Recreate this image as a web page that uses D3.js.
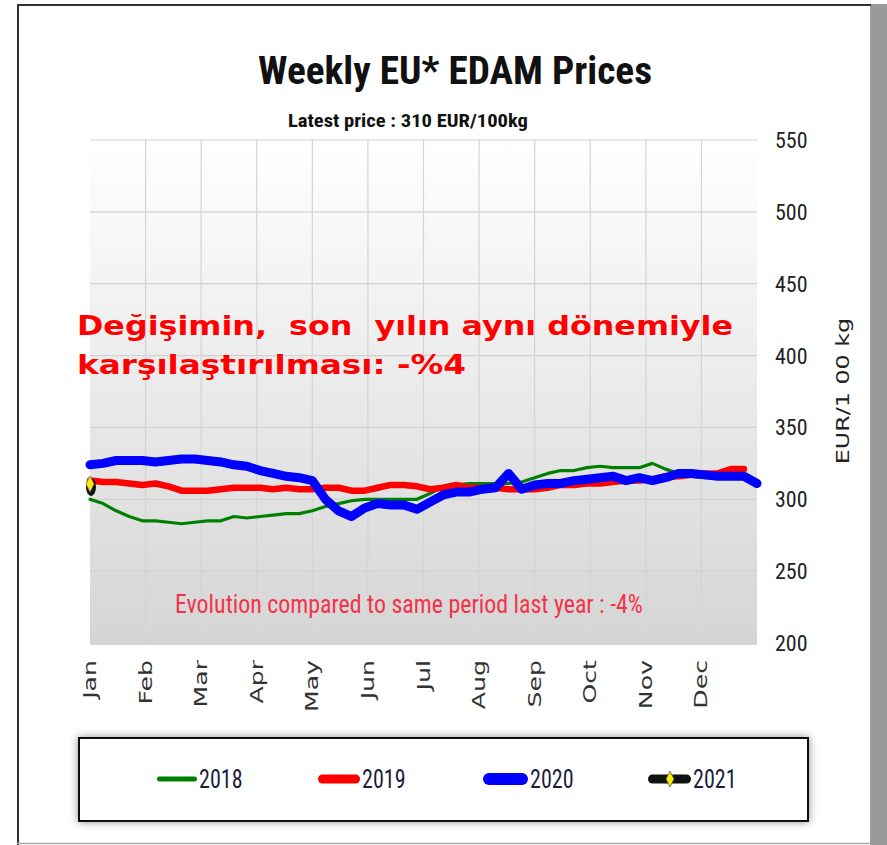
<!DOCTYPE html>
<html>
<head>
<meta charset="utf-8">
<script src="https://cdn.jsdelivr.net/npm/d3@7/dist/d3.min.js"></script>
<style>
  html, body { margin: 0; padding: 0; background: #fff; }
  svg { display: block; }
</style>
</head>
<body>
<svg id="chart" width="887" height="845"></svg>
<script>
// ---------- DATA ----------
const months = ["Jan","Feb","Mar","Apr","May","Jun","Jul","Aug","Sep","Oct","Nov","Dec"];
const yTicks = [200, 250, 300, 350, 400, 450, 500, 550];
const seriesNames = ["2018", "2019", "2020", "2021"];

const prices2018 = [300,297,292,288,285,285,284,283,284,285,285,288,287,288,289,290,290,292,295,297,
  299,300,300,300,300,300,304,309,310,311,311,311,311,312,315,318,320,320,322,323,
  322,322,322,325,321,318,316,315,315,315,315];
const prices2019 = [313,312,312,311,310,311,309,306,306,306,307,308,308,308,307,308,307,307,308,308,
  306,306,308,310,310,309,307,308,310,308,308,308,307,307,307,308,310,310,311,311,
  312,313,313,314,316,316,317,318,318,321,321];
const prices2020 = [324,325,327,327,327,326,327,328,328,327,326,324,323,320,318,316,315,313,300,292,
  288,294,297,296,296,293,298,303,305,305,307,308,318,307,310,311,311,313,314,315,
  316,313,315,313,315,318,318,317,316,316,316,311];
const prices2021 = [310];

const titleText = "Weekly EU* EDAM Prices";
const subtitleText = "Latest price : 310 EUR/100kg";
const evolutionText = "Evolution compared to same period last year : -4%";
const trLine1 = "Değişimin,  son  yılın aynı dönemiyle";
const trLine2 = "karşılaştırılması: -%4";
const yAxisTitle = "EUR/1 00 kg";

// ---------- LAYOUT ----------
const svg = d3.select("#chart");
const plot = { left: 90, right: 757, top: 140, bottom: 645 };

const x = d3.scaleLinear().domain([1, 52]).range([plot.left, plot.right]);
const xm = d3.scaleLinear().domain([0, 12]).range([plot.left, plot.right]);
const y = d3.scaleLinear().domain([200, 550]).range([643, 140]);

const narrow = "'Liberation Sans Narrow', 'Roboto Condensed', Roboto, 'Open Sans', sans-serif";
const verdana = "'DejaVu Sans', Verdana, sans-serif";

const defs = svg.append("defs");
const grad = defs.append("linearGradient").attr("id", "bg").attr("x1", 0).attr("y1", 0).attr("x2", 0).attr("y2", 1);
grad.append("stop").attr("offset", "0%").attr("stop-color", "#ffffff");
grad.append("stop").attr("offset", "100%").attr("stop-color", "#d5d5d5");

const shadow = defs.append("filter").attr("id", "shadow").attr("x", "-10%").attr("y", "-30%").attr("width", "120%").attr("height", "160%");
shadow.append("feDropShadow").attr("dx", 0).attr("dy", 0).attr("stdDeviation", 4).attr("flood-color", "#000").attr("flood-opacity", 0.45);

const blur = defs.append("filter").attr("id", "soft");
blur.append("feGaussianBlur").attr("stdDeviation", 0.6);

// page frame
svg.append("rect").attr("x", 870).attr("y", 4).attr("width", 17).attr("height", 841).attr("fill", "#9a9a9a");
svg.append("line").attr("x1", 17).attr("x2", 871).attr("y1", 5).attr("y2", 5).attr("stroke", "#333").attr("stroke-width", 2);
svg.append("line").attr("x1", 18).attr("x2", 18).attr("y1", 4).attr("y2", 845).attr("stroke", "#333").attr("stroke-width", 2);
svg.append("line").attr("x1", 17).attr("x2", 871).attr("y1", 843.5).attr("y2", 843.5).attr("stroke", "#aaa").attr("stroke-width", 1.5);

// plot background
svg.append("rect").attr("x", plot.left).attr("y", plot.top).attr("width", plot.right - plot.left)
  .attr("height", plot.bottom - plot.top).attr("fill", "url(#bg)");

// horizontal gridlines
svg.append("g").selectAll("line").data(yTicks).join("line")
  .attr("x1", plot.left).attr("x2", plot.right)
  .attr("y1", d => y(d)).attr("y2", d => y(d))
  .attr("stroke", "#d2d2d2").attr("stroke-width", 1.2);

// vertical gridlines (month boundaries)
svg.append("g").selectAll("line").data(d3.range(1, 12)).join("line")
  .attr("x1", d => xm(d)).attr("x2", d => xm(d))
  .attr("y1", plot.top).attr("y2", plot.bottom)
  .attr("stroke", "#d4d4d4").attr("stroke-width", 1.2);

// y tick labels (right)
svg.append("g").selectAll("text").data(yTicks).join("text")
  .attr("transform", d => `translate(775,${y(d)}) scale(1.1,1.15)`)
  .attr("dy", "0.35em")
  .attr("font-family", narrow)
  .attr("font-size", 20).attr("fill", "#222")
  .text(d => d);

// y axis title
svg.append("text")
  .attr("transform", "translate(849,391) rotate(-90) scale(1.4,1)")
  .attr("text-anchor", "middle")
  .attr("font-family", verdana)
  .attr("font-size", 17).attr("fill", "#222")
  .text(yAxisTitle);

// month labels
svg.append("g").selectAll("text").data(months).join("text")
  .attr("transform", (d, i) => `translate(${xm(i) + 6},660) rotate(-90) scale(1.4,1)`)
  .attr("text-anchor", "end")
  .attr("font-family", verdana)
  .attr("font-size", 18).attr("fill", "#333")
  .text(d => d);

// evolution text
svg.append("text")
  .attr("x", 175).attr("y", 613)
  .attr("font-family", narrow)
  .attr("font-size", 25).attr("fill", "#f2334a")
  .attr("textLength", 468).attr("lengthAdjust", "spacingAndGlyphs")
  .text(evolutionText);

// lines
const line = d3.line().defined(d => d != null).x((d, i) => x(i + 1)).y(d => y(d)).curve(d3.curveLinear);
const lineData = [
  { name: "2018", values: prices2018, color: "#008000", width: 3.2 },
  { name: "2019", values: prices2019, color: "#ff0000", width: 6.5 },
  { name: "2020", values: prices2020, color: "#0000ff", width: 9 }
];
svg.append("g").attr("filter", "url(#soft)").selectAll("path").data(lineData).join("path")
  .attr("d", d => line(d.values))
  .attr("fill", "none").attr("stroke", d => d.color).attr("stroke-width", d => d.width)
  .attr("stroke-linejoin", "round").attr("stroke-linecap", "round");

// 2021 marker
const m21 = svg.append("g");
m21.selectAll("ellipse").data(prices2021).join("ellipse")
  .attr("cx", (d, i) => x(i + 1) + 1).attr("cy", d => y(d) + 2).attr("rx", 5).attr("ry", 9).attr("fill", "#111");
m21.selectAll("path").data(prices2021).join("path")
  .attr("d", (d, i) => { const cx = x(i + 1), cy = y(d) - 1; return `M${cx},${cy - 8}L${cx + 4},${cy}L${cx},${cy + 8}L${cx - 4},${cy}Z`; })
  .attr("fill", "#ffee00").attr("stroke", "#777").attr("stroke-width", 0.8);

// title
svg.append("text")
  .attr("x", 455).attr("y", 84).attr("text-anchor", "middle")
  .attr("font-family", narrow)
  .attr("font-weight", "bold").attr("font-size", 38).attr("fill", "#111")
  .attr("textLength", 394).attr("lengthAdjust", "spacingAndGlyphs")
  .text(titleText);

svg.append("text")
  .attr("x", 408).attr("y", 127).attr("text-anchor", "middle")
  .attr("font-family", narrow)
  .attr("font-weight", "bold").attr("font-size", 18).attr("fill", "#111")
  .attr("textLength", 240).attr("lengthAdjust", "spacingAndGlyphs")
  .text(subtitleText);

// Turkish overlay text
const tr = svg.append("g").attr("font-family", verdana)
  .attr("font-weight", "bold").attr("font-size", 26).attr("fill", "#ff0000");
tr.append("text").attr("x", 77).attr("y", 335).attr("xml:space", "preserve").style("white-space", "pre")
  .attr("textLength", 656).attr("lengthAdjust", "spacingAndGlyphs").text(trLine1);
tr.append("text").attr("x", 77).attr("y", 374)
  .attr("textLength", 389).attr("lengthAdjust", "spacingAndGlyphs").text(trLine2);

// legend
svg.append("rect").attr("x", 79).attr("y", 738).attr("width", 729).attr("height", 83)
  .attr("fill", "#fff").attr("stroke", "#111").attr("stroke-width", 2).attr("filter", "url(#shadow)");

const legendItems = [
  { name: seriesNames[0], color: "#008000", h: 5, x: 157, w: 40 },
  { name: seriesNames[1], color: "#ff0000", h: 9, x: 318, w: 42 },
  { name: seriesNames[2], color: "#0000ff", h: 12, x: 483, w: 45 },
  { name: seriesNames[3], color: "#111111", h: 9, x: 648, w: 43 }
];
const lg = svg.append("g");
lg.selectAll("rect").data(legendItems).join("rect")
  .attr("x", d => d.x).attr("y", d => 779 - d.h / 2).attr("width", d => d.w).attr("height", d => d.h)
  .attr("rx", d => d.h / 2).attr("fill", d => d.color);
lg.selectAll("text").data(legendItems).join("text")
  .attr("transform", d => `translate(${d.x + d.w + 2},779) scale(1.05,1.2)`)
  .attr("dy", "0.36em")
  .attr("font-family", narrow)
  .attr("font-size", 21).attr("fill", "#1c1c3c")
  .text(d => d.name);
// yellow diamond on 2021 legend symbol
const d21 = legendItems[3];
lg.append("path")
  .attr("d", `M${d21.x + 22},${779 - 8}L${d21.x + 26},779L${d21.x + 22},${779 + 8}L${d21.x + 18},779Z`)
  .attr("fill", "#ffee00").attr("stroke", "#555").attr("stroke-width", 0.8);
</script>
</body>
</html>
